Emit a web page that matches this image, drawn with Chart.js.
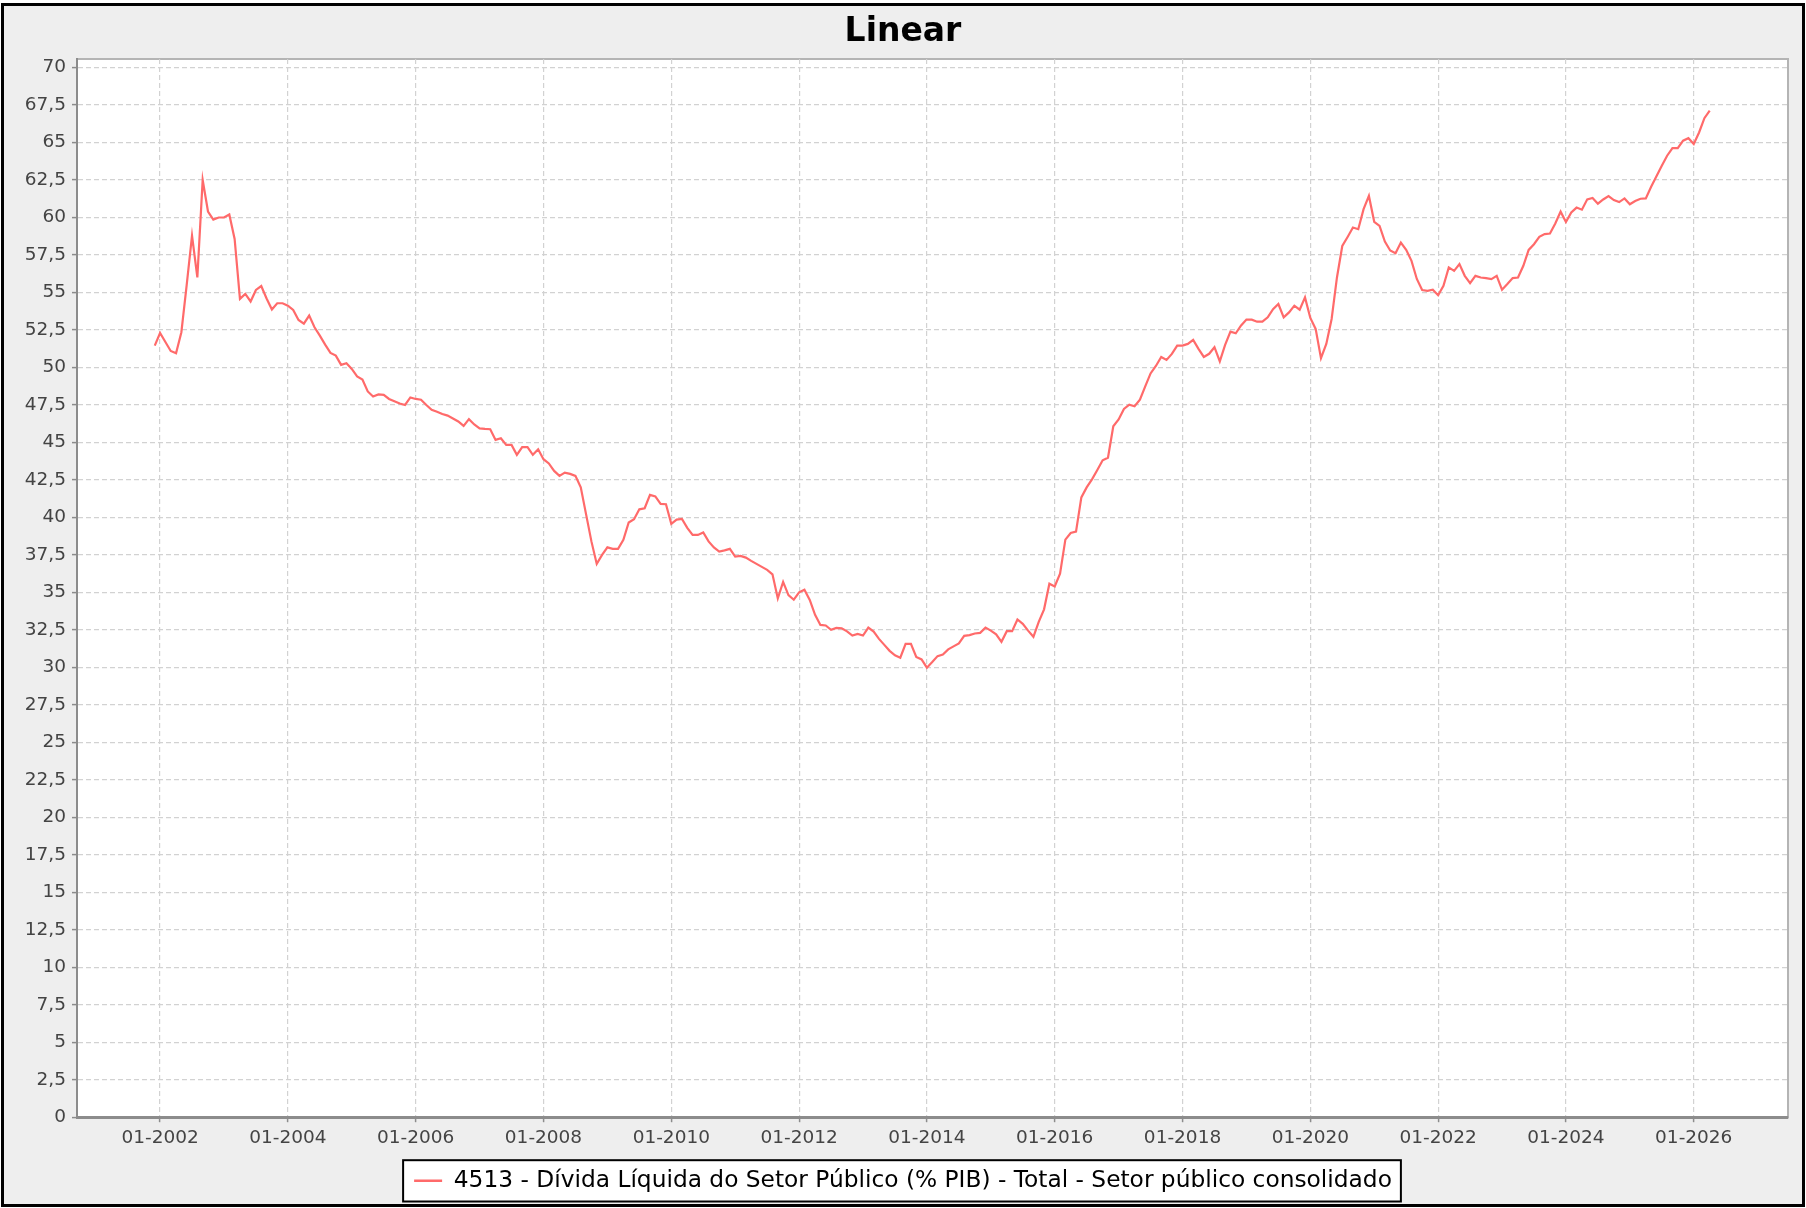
<!DOCTYPE html>
<html lang="pt">
<head>
    <meta charset="UTF-8">
    <meta name="viewport" content="width=device-width, initial-scale=1.0">
    <script src="https://cdn.jsdelivr.net/npm/chart.js"></script>
    <title>Linear</title>
    <style>
        body { margin: 0; background: #fff; }
        #frame {
            position: absolute; left: 1px; top: 3px;
            width: 1798px; height: 1198px;
            border: 3px solid #000; background: #eeeeee;
        }
    </style>
    <script>
        // serie 4513 - valores mensais (dez/2001 .. abr/2026)
        let seriesName = '4513 - Dívida Líquida do Setor Público (% PIB) - Total - Setor público consolidado';
        let firstMonth = -1; // mes 0 = 01-2002
        let divida = [
            51.46,
            52.3, 51.7, 51.1, 50.95, 52.35, 55.5, 58.79, 56.0, 62.5, 60.4, 59.86, 60.0,        // 2002
            60.0, 60.2, 58.57, 54.57, 54.9, 54.4, 55.17, 55.43, 54.6, 53.86, 54.28, 54.28,     // 2003
            54.12, 53.83, 53.17, 52.92, 53.46, 52.68, 52.12, 51.52, 50.97, 50.79, 50.17, 50.28,// 2004
            49.9, 49.4, 49.2, 48.4, 48.06, 48.2, 48.17, 47.9, 47.75, 47.6, 47.5, 48.0,         // 2005
            47.9, 47.85, 47.5, 47.17, 47.05, 46.9, 46.79, 46.6, 46.4, 46.1, 46.55, 46.2,       // 2006
            45.94, 45.9, 45.88, 45.17, 45.28, 44.83, 44.83, 44.17, 44.68, 44.68, 44.17, 44.54, // 2007
            43.88, 43.6, 43.1, 42.77, 42.99, 42.9, 42.77, 42.0, 40.2, 38.4, 36.9, 37.5,        // 2008
            38.0, 37.9, 37.9, 38.5, 39.66, 39.88, 40.54, 40.61, 41.5, 41.4, 40.9, 40.88,       // 2009
            39.57, 39.85, 39.9, 39.3, 38.83, 38.83, 39.0, 38.4, 38.0, 37.72, 37.8, 37.9,       // 2010
            37.39, 37.43, 37.32, 37.1, 36.9, 36.7, 36.5, 36.2, 34.6, 35.7, 34.82, 34.51,       // 2011
            35.0, 35.18, 34.5, 33.5, 32.83, 32.79, 32.5, 32.63, 32.61, 32.4, 32.12, 32.23,     // 2012
            32.12, 32.65, 32.39, 31.9, 31.5, 31.1, 30.8, 30.64, 31.57, 31.57, 30.69, 30.53,    // 2013
            29.98, 30.35, 30.75, 30.85, 31.2, 31.4, 31.6, 32.1, 32.15, 32.26, 32.3, 32.65,     // 2014
            32.45, 32.2, 31.7, 32.41, 32.41, 33.19, 32.9, 32.45, 32.04, 33.03, 33.87, 35.58,   // 2015
            35.4, 36.24, 38.52, 38.96, 39.05, 41.33, 42.0, 42.54, 43.16, 43.81, 43.98, 46.08,  // 2016
            46.53, 47.23, 47.52, 47.41, 47.85, 48.74, 49.6, 50.1, 50.7, 50.5, 50.9, 51.46,     // 2017
            51.46, 51.57, 51.84, 51.24, 50.7, 50.91, 51.35, 50.4, 51.5, 52.39, 52.28, 52.8,    // 2018
            53.19, 53.19, 53.05, 53.05, 53.34, 53.89, 54.23, 53.34, 53.67, 54.12, 53.85, 54.67,// 2019
            53.3, 52.57, 50.62, 51.57, 53.23, 56.0, 58.1, 58.7, 59.33, 59.22, 60.56, 61.44,    // 2020
            59.71, 59.44, 58.4, 57.8, 57.62, 58.33, 57.84, 57.11, 55.9, 55.16, 55.11, 55.18,   // 2021
            54.82, 55.44, 56.67, 56.44, 56.89, 56.11, 55.62, 56.11, 56.0, 55.96, 55.89, 56.11, // 2022
            55.18, 55.56, 55.96, 56.0, 56.78, 57.84, 58.22, 58.71, 58.89, 58.93, 59.6, 60.39,  // 2023
            59.7, 60.33, 60.66, 60.52, 61.21, 61.3, 60.92, 61.2, 61.43, 61.16, 61.03, 61.27,   // 2024
            60.88, 61.1, 61.25, 61.27, 62.05, 62.75, 63.45, 64.12, 64.63, 64.63, 65.12, 65.29, // 2025
            64.9, 65.67, 66.62, 67.12                                                          // 2026
        ];
        let xTickMonths = [0, 24, 48, 72, 96, 120, 144, 168, 192, 216, 240, 264, 288];
        let xTickLabels = ['01-2002', '01-2004', '01-2006', '01-2008', '01-2010', '01-2012', '01-2014',
                           '01-2016', '01-2018', '01-2020', '01-2022', '01-2024', '01-2026'];
        let yTickValues = [0, 2.5, 5, 7.5, 10, 12.5, 15, 17.5, 20, 22.5, 25, 27.5, 30, 32.5, 35,
                           37.5, 40, 42.5, 45, 47.5, 50, 52.5, 55, 57.5, 60, 62.5, 65, 67.5, 70];

        let lineColor = '#ff6a6a';
        let tickFont = { family: 'DejaVu Sans', size: 18.5 };

        // fundo branco do plot, contorno cinza e caixa da legenda
        const frameBox = {
            id: 'frameBox',
            beforeDraw(chart) {
                const c = chart.ctx;
                const a = chart.chartArea;
                c.save();
                c.fillStyle = '#ffffff';
                c.fillRect(a.left, a.top, a.right - a.left, a.bottom - a.top);
                c.strokeStyle = '#b4b4b4';
                c.lineWidth = 2;
                c.strokeRect(a.left, a.top, a.right - a.left, a.bottom - a.top);
                const lg = chart.legend;
                if (lg && lg.legendHitBoxes && lg.legendHitBoxes.length) {
                    const hb = lg.legendHitBoxes[0];
                    const x0 = hb.left - 11;
                    const x1 = hb.left + hb.width + 9;
                    const y0 = lg.top + 1;
                    const y1 = lg.bottom - 1;
                    c.fillStyle = '#ffffff';
                    c.fillRect(x0, y0, x1 - x0, y1 - y0);
                    c.strokeStyle = '#000000';
                    c.lineWidth = 2;
                    c.strokeRect(x0, y0, x1 - x0, y1 - y0);
                }
                c.restore();
            }
        };

        window.addEventListener('load', function () {
            let ctx = document.getElementById('myChart');
            let points = divida.map((v, i) => ({ x: firstMonth + i, y: v }));

            new Chart(ctx, {
                type: 'line',
                data: {
                    datasets: [{
                        label: seriesName,
                        data: points,
                        borderColor: lineColor,
                        backgroundColor: lineColor,
                        borderWidth: 2.2,
                        pointRadius: 0,
                        tension: 0,
                        yAxisID: 'y'
                    }]
                },
                options: {
                    responsive: true,
                    maintainAspectRatio: false,
                    animation: false,
                    events: [],
                    layout: { padding: { left: 0, right: 0, top: 0, bottom: 1.5 } },
                    scales: {
                        x: {
                            type: 'linear',
                            min: -15.6,
                            max: 305.7,
                            afterBuildTicks: (s) => { s.ticks = xTickMonths.map(v => ({ value: v })); },
                            afterFit: (s) => { s.height = 42; },
                            ticks: {
                                autoSkip: false, maxRotation: 0, padding: 5,
                                color: '#444', font: tickFont,
                                callback: (v, i) => xTickLabels[i]
                            },
                            grid: { color: '#d2d2d2', lineWidth: 1.2, tickLength: 5, tickColor: '#8c8c8c', tickWidth: 1.5 },
                            border: { display: true, color: '#8c8c8c', width: 3, dash: [5, 3] }
                        },
                        y: {
                            min: 0,
                            max: 70.57,
                            afterBuildTicks: (s) => { s.ticks = yTickValues.map(v => ({ value: v })); },
                            afterFit: (s) => { s.width = 73; },
                            ticks: {
                                padding: 6, color: '#444', font: tickFont,
                                callback: (v) => String(v).replace('.', ',')
                            },
                            grid: { color: '#d2d2d2', lineWidth: 1.2, tickLength: 5, tickColor: '#8c8c8c', tickWidth: 1.5 },
                            border: { display: true, color: '#8c8c8c', width: 2, dash: [5, 3] }
                        },
                        yRight: {
                            position: 'right',
                            display: true,
                            afterFit: (s) => { s.width = 14; },
                            ticks: { display: false },
                            grid: { display: false },
                            border: { display: false }
                        }
                    },
                    plugins: {
                        title: {
                            display: true,
                            text: 'Linear',
                            color: '#000',
                            font: { family: 'DejaVu Sans', size: 33, weight: 'bold', lineHeight: '40px' },
                            padding: { top: 6, bottom: 7 }
                        },
                        legend: {
                            display: true,
                            position: 'bottom',
                            labels: {
                                color: '#000',
                                font: { family: 'DejaVu Sans', size: 23.3 },
                                boxWidth: 28,
                                boxHeight: 2.5,
                                padding: 10,
                                generateLabels: (chart) => {
                                    let items = Chart.defaults.plugins.legend.labels.generateLabels(chart);
                                    items.forEach(it => { it.lineWidth = 0; it.fillStyle = lineColor; });
                                    return items;
                                }
                            }
                        },
                        tooltip: { enabled: false }
                    }
                },
                plugins: [frameBox]
            });
        });
    </script>
</head>
<body>
    <div id="frame">
        <canvas id="myChart"></canvas>
    </div>
</body>
</html>
